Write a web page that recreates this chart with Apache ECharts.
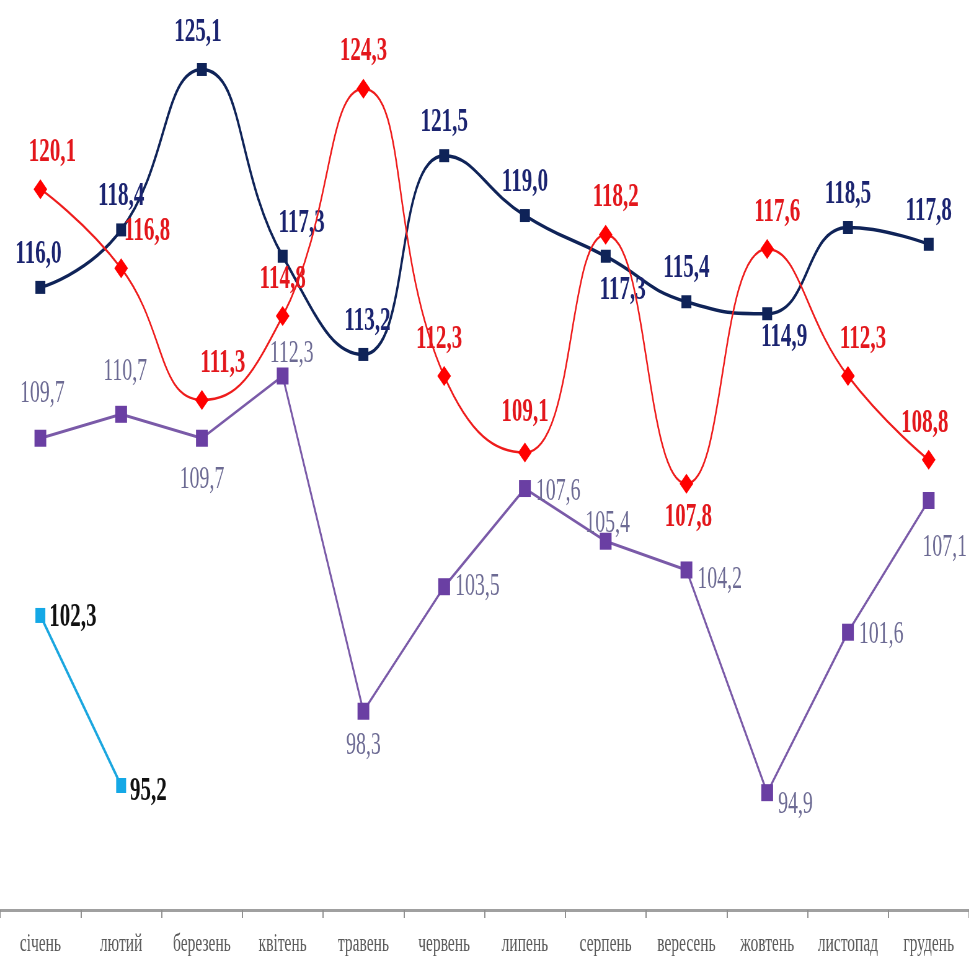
<!DOCTYPE html>
<html>
<head>
    <meta charset="utf-8">
    <title>ECharts</title>
    <script src="https://cdn.jsdelivr.net/npm/echarts@6/dist/echarts.min.js"></script>
    <style>
        html, body { margin: 0; padding: 0; background: #fff; overflow: hidden; }
        /* the source picture is squeezed sideways, so draw wide and squeeze */
        #main { width: 1563px; height: 967px; transform: scaleX(0.62); transform-origin: 0 0; }
    </style>
</head>
<body>
    <div id="main"></div>
    <script type="text/javascript">
    var squeeze = 0.62;

    // months
    var months = ['січень', 'лютий', 'березень', 'квітень', 'травень', 'червень',
        'липень', 'серпень', 'вересень', 'жовтень', 'листопад', 'грудень'];

    // series values
    var navyValues = [116.0, 118.4, 125.1, 117.3, 113.2, 121.5, 119.0, 117.3, 115.4, 114.9, 118.5, 117.8];
    var redValues = [120.1, 116.8, 111.3, 114.8, 124.3, 112.3, 109.1, 118.2, 107.8, 117.6, 112.3, 108.8];
    var purpleValues = [109.7, 110.7, 109.7, 112.3, 98.3, 103.5, 107.6, 105.4, 104.2, 94.9, 101.6, 107.1];
    var cyanValues = [102.3, 95.2];

    // label placement per point (side, shift in screen px)
    var navyPos = ['top', 'top', 'top', 'top', 'top', 'top', 'top', 'bottom', 'top', 'bottom', 'top', 'top'];
    var navyDx = [-2, 0, -4, 19, 4, 0, 0, 17, 0, 17, 0, 0];
    var navyDy = [0, 0, -4, 0, 0, 0, 0, 0, 0, -10, 0, 0];
    var redPos = ['top', 'top', 'top', 'top', 'top', 'top', 'top', 'top', 'bottom', 'top', 'top', 'top'];
    var redDx = [12, 26, 21, 0, 0, -5, 0, 10, 2, 10, 15, -4];
    var redDy = [0, 0, 0, 0, 0, 0, -3, 0, -4, 0, 0, 0];
    var purplePos = ['top', 'top', 'bottom', 'top', 'bottom', 'right', 'right', 'top', 'right', 'right', 'right', 'bottom'];
    var purpleDx = [2, 4, 0, 9, 0, 0, 0, 2, 0, 0, 0, 16];
    var purpleDy = [-12, -10, 9, 10, 2, 0, 3, 15, 10, 12, 2, 15];
    var cyanDy = [2, 6];

    function fmt(v) {
        return v.toFixed(1).replace('.', ',');
    }

    function build(values, positions, dx, dy) {
        return values.map(function (v, i) {
            return {
                value: v,
                label: {
                    position: positions ? positions[i] : 'right',
                    offset: [dx ? dx[i] / squeeze : 0, dy ? dy[i] : 0]
                }
            };
        });
    }

    var labelFont = 'Liberation Serif';

    var myChart = echarts.init(document.getElementById('main'));
    var option = {
        animation: false,
        grid: { left: 0, right: 0, top: 12, bottom: 57 },
        xAxis: {
            type: 'category',
            data: months,
            boundaryGap: true,
            axisLine: { lineStyle: { color: '#a0a0a0', width: 3 } },
            axisTick: { show: true, length: 8, lineStyle: { color: '#909090', width: 2 } },
            axisLabel: {
                color: '#5a5a5a',
                fontFamily: labelFont,
                fontSize: 25,
                margin: 22
            }
        },
        yAxis: {
            type: 'value',
            min: 90,
            max: 127.5,
            show: false,
            splitLine: { show: false }
        },
        series: [
            {
                name: 'navy',
                type: 'line',
                smooth: 0.5,
                data: build(navyValues, navyPos, navyDx, navyDy),
                symbol: 'rect',
                symbolSize: [16, 13],
                lineStyle: { color: '#0f2358', width: 3.5 },
                itemStyle: { color: '#0f2358' },
                label: {
                    show: true,
                    distance: 10,
                    formatter: function (p) { return fmt(p.value); },
                    color: '#1b2470',
                    fontFamily: labelFont,
                    fontWeight: 'bold',
                    fontSize: 34
                },
                z: 3
            },
            {
                name: 'red',
                type: 'line',
                smooth: 0.5,
                data: build(redValues, redPos, redDx, redDy),
                symbol: 'diamond',
                symbolSize: [22, 20],
                lineStyle: { color: '#ee1c1c', width: 2.5 },
                itemStyle: { color: '#ff0000' },
                label: {
                    show: true,
                    distance: 10,
                    formatter: function (p) { return fmt(p.value); },
                    color: '#e3171c',
                    fontFamily: labelFont,
                    fontWeight: 'bold',
                    fontSize: 34
                },
                z: 4
            },
            {
                name: 'purple',
                type: 'line',
                data: build(purpleValues, purplePos, purpleDx, purpleDy),
                symbol: 'rect',
                symbolSize: [19, 17],
                lineStyle: { color: '#7a5aa8', width: 3 },
                itemStyle: { color: '#6a3fa3' },
                label: {
                    show: true,
                    distance: 8,
                    formatter: function (p) { return fmt(p.value); },
                    color: '#6c6a93',
                    fontFamily: labelFont,
                    fontSize: 32
                },
                z: 2
            },
            {
                name: 'cyan',
                type: 'line',
                data: build(cyanValues, null, null, cyanDy),
                symbol: 'rect',
                symbolSize: [16, 15],
                lineStyle: { color: '#1aa6df', width: 3.5 },
                itemStyle: { color: '#14a8e6' },
                label: {
                    show: true,
                    distance: 6,
                    formatter: function (p) { return fmt(p.value); },
                    color: '#111',
                    fontFamily: labelFont,
                    fontWeight: 'bold',
                    fontSize: 34
                },
                z: 2
            }
        ]
    };
    myChart.setOption(option);
    </script>
</body>
</html>
